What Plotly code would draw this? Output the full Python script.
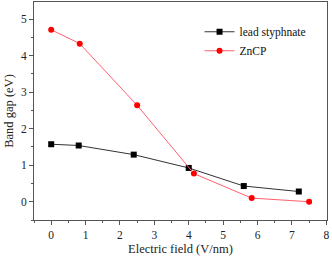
import plotly.graph_objects as go

lead_x = [0, 0.8, 2.4, 4.0, 5.6, 7.2]
lead_y = [1.575, 1.54, 1.29, 0.925, 0.43, 0.28]
zncp_x = [0, 0.83, 2.5, 4.15, 5.83, 7.5]
zncp_y = [4.71, 4.33, 2.64, 0.77, 0.10, 0.0]
x_ticks = [0, 1, 2, 3, 4, 5, 6, 7, 8]
y_ticks = [0, 1, 2, 3, 4, 5]

SERIF = "Liberation Serif, Times New Roman, serif"

fig = go.Figure()
fig.add_trace(go.Scatter(x=lead_x, y=lead_y, mode="lines+markers", name="lead styphnate",
                         line=dict(color="#333333", width=1),
                         marker=dict(symbol="square", size=6, color="#000000")))
fig.add_trace(go.Scatter(x=zncp_x, y=zncp_y, mode="lines+markers", name="ZnCP",
                         line=dict(color="#ff6070", width=1),
                         marker=dict(symbol="circle", size=6, color="#ff0000")))

axis_common = dict(showgrid=False, zeroline=False, showline=True, mirror=True,
                   linecolor="#555555", linewidth=1, ticks="outside", ticklen=4,
                   tickcolor="#555555", tickfont=dict(family=SERIF, size=11.5, color="#222222"),
                   ticklabeloverflow="allow", tickmode="array")
fig.update_xaxes(range=[-0.5, 8.02], tickvals=x_ticks, ticktext=[str(v) for v in x_ticks],
                 minor=dict(dtick=0.5, tick0=0, ticks="outside", ticklen=2, tickcolor="#555555"),
                 title=dict(text="Electric field (V/nm)", font=dict(family=SERIF, size=12.5, color="#222222"), standoff=4),
                 **axis_common)
fig.update_yaxes(range=[-0.5, 5.47], tickvals=y_ticks, ticktext=[str(v) for v in y_ticks],
                 minor=dict(dtick=0.5, tick0=0, ticks="outside", ticklen=2, tickcolor="#555555"),
                 title=dict(text="Band gap (eV)", font=dict(family=SERIF, size=12.5, color="#222222"), standoff=4),
                 **axis_common)
fig.update_layout(width=332, height=256, margin=dict(l=34, r=5, t=2, b=36),
                  paper_bgcolor="white", plot_bgcolor="white",
                  font=dict(family=SERIF),
                  legend=dict(x=0.565, y=0.93, xanchor="left", yanchor="top",
                              bgcolor="rgba(0,0,0,0)",
                              font=dict(family=SERIF, size=11.5, color="#111111"),
                              tracegroupgap=0, itemwidth=30),
                  showlegend=True)
fig.write_html("out.html", config={"displayModeBar": False},
               post_script="document.body.style.margin='0';document.body.style.overflow='hidden';document.documentElement.style.overflow='hidden';")
